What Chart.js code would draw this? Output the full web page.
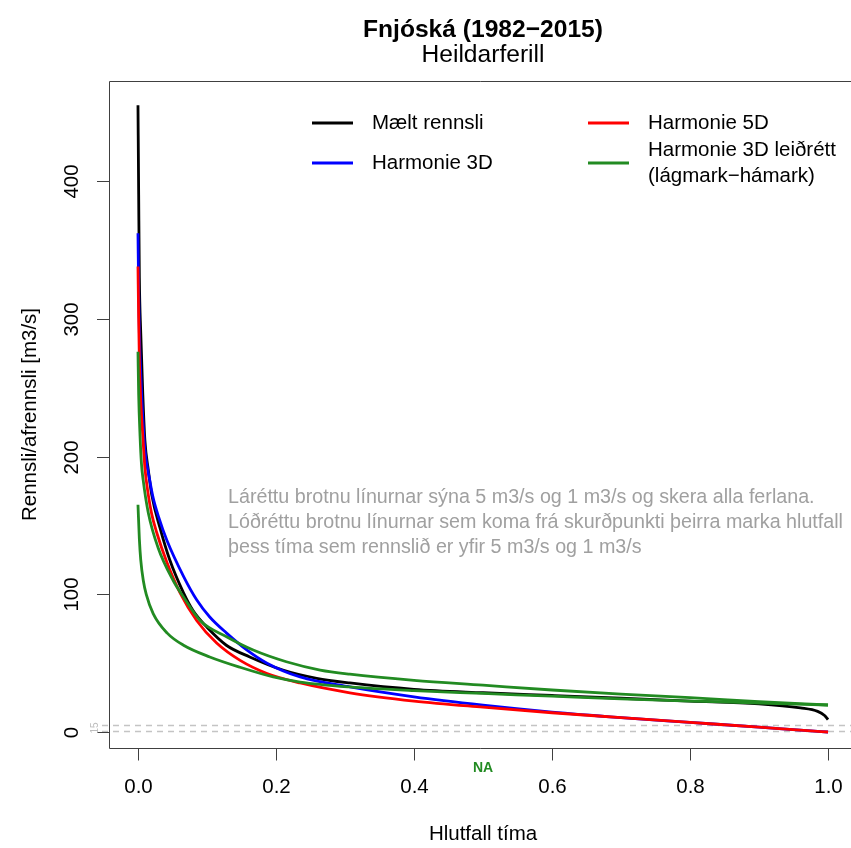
<!DOCTYPE html>
<html lang="is">
<head>
  <meta charset="UTF-8" />
  <title>Fnjóská – Heildarferill</title>
  <script src="https://cdn.jsdelivr.net/npm/chart.js"></script>
  <style>
    html, body {
      margin: 0;
      padding: 0;
      background: #fff;
      overflow: hidden;
    }
    #chart {
      display: block;
    }
  </style>
</head>
<body>
  <canvas id="chart" width="851" height="848"></canvas>

  <script>
    // texts
    const titleText = 'Fnjóská (1982\u22122015)';
    const subtitleText = 'Heildarferill';
    const xTitle = 'Hlutfall tíma';
    const yTitle = 'Rennsli/afrennsli [m3/s]';
    const noteLines = [
      'Láréttu brotnu línurnar sýna 5 m3/s og 1 m3/s og skera alla ferlana.',
      'Lóðréttu brotnu línurnar sem koma frá skurðpunkti þeirra marka hlutfall',
      'þess tíma sem rennslið er yfir 5 m3/s og 1 m3/s'
    ];

    // ticks and reference levels
    const xTicks = [0, 0.2, 0.4, 0.6, 0.8, 1.0];
    const yTicks = [0, 100, 200, 300, 400];
    const refLevels = [5, 1];

    // Mælt rennsli (black)
    const maeltX = [0, 0.001, 0.002, 0.004, 0.007, 0.01, 0.015, 0.02, 0.032, 0.046, 0.066, 0.08, 0.1, 0.128, 0.162, 0.21, 0.259, 0.307, 0.4, 0.5, 0.6, 0.7, 0.8, 0.9, 0.96, 0.985, 0.995, 1.0];
    const maeltY = [455, 390, 330, 290, 245, 212, 190, 172, 148, 125, 101, 88, 76, 63, 54.5, 45, 39, 35.6, 31, 28.5, 26.5, 24.5, 22.5, 20.5, 17.5, 15, 12, 9];

    // Harmonie 3D (blue)
    const h3dX = [0, 0.001, 0.002, 0.004, 0.007, 0.01, 0.017, 0.022, 0.03, 0.042, 0.066, 0.085, 0.104, 0.128, 0.158, 0.187, 0.235, 0.307, 0.4, 0.5, 0.6, 0.7, 0.8, 0.9, 0.97, 1.0];
    const h3dY = [362, 320, 290, 260, 228, 205, 183, 170, 156, 139, 113, 96, 83.5, 72, 59.5, 50, 40, 32.7, 25.5, 19.5, 14.5, 10.5, 7, 3.5, 1, 0];

    // Harmonie 5D (red)
    const h5dX = [0, 0.001, 0.002, 0.004, 0.007, 0.01, 0.015, 0.02, 0.027, 0.042, 0.061, 0.085, 0.114, 0.148, 0.187, 0.235, 0.307, 0.4, 0.5, 0.6, 0.7, 0.8, 0.9, 0.97, 1.0];
    const h5dY = [338, 300, 270, 240, 215, 192, 172, 158, 145, 123, 101, 81, 64.6, 52, 42.5, 35.6, 28.5, 22.5, 18, 14, 10.5, 7, 3.5, 1, 0];

    // Harmonie 3D leiðrétt, hámark (green, upper)
    const leidHaX = [0, 0.001, 0.003, 0.005, 0.0075, 0.015, 0.029, 0.051, 0.066, 0.09, 0.129, 0.167, 0.215, 0.264, 0.307, 0.4, 0.5, 0.6, 0.7, 0.8, 0.9, 1.0];
    const leidHaY = [276, 245, 215, 195, 183, 159, 134, 110, 98, 81, 69, 59.5, 51, 45, 42, 37.5, 34, 30.5, 27.5, 25, 22, 19.6];

    // Harmonie 3D leiðrétt, lágmark (green, lower)
    const leidLaX = [0, 0.002, 0.004, 0.0077, 0.012, 0.022, 0.042, 0.066, 0.104, 0.148, 0.196, 0.235, 0.307, 0.4, 0.5, 0.6, 0.7, 0.8, 0.9, 1.0];
    const leidLaY = [165, 140, 125, 110, 100, 86, 72, 63, 54.5, 47, 40, 36.3, 32.7, 30, 28, 26, 24, 22.5, 21, 19.6];

    const legendLabels = ['Mælt rennsli', 'Harmonie 3D', 'Harmonie 5D', ['Harmonie 3D leiðrétt', '(lágmark\u2212hámark)']];
    const legendColors = ['#000000', '#0000ff', '#ff0000', '#228b22'];

    const FONT = '"Liberation Sans", Arial, sans-serif';

    function pts(xs, ys) {
      return xs.map((x, i) => ({ x: x, y: ys[i] }));
    }

    function line(label, xs, ys, color, order) {
      return {
        label: label,
        data: pts(xs, ys),
        borderColor: color,
        borderWidth: 2.8,
        pointRadius: 0,
        fill: false,
        tension: 0.4,
        cubicInterpolationMode: 'monotone',
        order: order
      };
    }

    // R-style frame, ticks, labels, legend and notes
    const rStyle = {
      id: 'rStyle',
      beforeDatasetsDraw(chart) {
        const ctx = chart.ctx;
        const ys = chart.scales.y;
        ctx.save();
        ctx.strokeStyle = '#c4c4c4';
        ctx.lineWidth = 1.5;
        ctx.setLineDash([6, 5]);
        refLevels.forEach(v => {
          const py = Math.round(ys.getPixelForValue(v)) + 0.5;
          ctx.beginPath();
          ctx.moveTo(102, py);
          ctx.lineTo(851, py);
          ctx.stroke();
        });
        ctx.restore();
      },
      afterDraw(chart) {
        const ctx = chart.ctx;
        const a = chart.chartArea;
        const xs = chart.scales.x;
        const ys = chart.scales.y;
        const cx = xs.getPixelForValue(0.5);

        ctx.save();
        // frame
        ctx.strokeStyle = '#404040';
        ctx.lineWidth = 1;
        ctx.beginPath();
        ctx.moveTo(a.right + 10, a.top + 0.5);
        ctx.lineTo(a.left + 0.5, a.top + 0.5);
        ctx.lineTo(a.left + 0.5, a.bottom + 0.5);
        ctx.lineTo(a.right + 10, a.bottom + 0.5);
        ctx.stroke();

        // x ticks
        ctx.fillStyle = '#000';
        ctx.font = '20.5px ' + FONT;
        ctx.textAlign = 'center';
        ctx.textBaseline = 'alphabetic';
        xTicks.forEach(v => {
          const px = Math.round(xs.getPixelForValue(v)) + 0.5;
          ctx.beginPath();
          ctx.moveTo(px, a.bottom);
          ctx.lineTo(px, a.bottom + 12.5);
          ctx.stroke();
          ctx.fillText(v.toFixed(1), px, 793);
        });

        // y ticks (rotated labels)
        yTicks.forEach(v => {
          const py = Math.round(ys.getPixelForValue(v)) + 0.5;
          ctx.beginPath();
          ctx.moveTo(a.left, py);
          ctx.lineTo(a.left - 12, py);
          ctx.stroke();
          ctx.save();
          ctx.translate(78, py);
          ctx.rotate(-Math.PI / 2);
          ctx.fillText(String(v), 0, 0);
          ctx.restore();
        });

        // axis titles
        ctx.fillText(xTitle, cx, 840);
        ctx.save();
        ctx.translate(30, (a.top + a.bottom) / 2);
        ctx.rotate(-Math.PI / 2);
        ctx.textBaseline = 'middle';
        ctx.fillText(yTitle, 0, 0);
        ctx.restore();

        // title
        ctx.font = 'bold 24.6px ' + FONT;
        ctx.fillText(titleText, cx, 37);
        ctx.font = '24.6px ' + FONT;
        ctx.fillText(subtitleText, cx, 62);

        // legend
        ctx.font = '20.5px ' + FONT;
        ctx.textAlign = 'left';
        ctx.textBaseline = 'middle';
        const legPos = [
          { x: 312, y: 123 },
          { x: 312, y: 163 },
          { x: 588, y: 123 },
          { x: 588, y: 163 }
        ];
        legendLabels.forEach((lab, i) => {
          const p = legPos[i];
          ctx.strokeStyle = legendColors[i];
          ctx.lineWidth = 2.8;
          ctx.beginPath();
          ctx.moveTo(p.x, p.y);
          ctx.lineTo(p.x + 41, p.y);
          ctx.stroke();
          if (Array.isArray(lab)) {
            ctx.fillText(lab[0], p.x + 60, p.y - 13);
            ctx.fillText(lab[1], p.x + 60, p.y + 13);
          } else {
            ctx.fillText(lab, p.x + 60, p.y);
          }
        });

        // note
        ctx.fillStyle = '#a0a0a0';
        ctx.font = '19.7px ' + FONT;
        noteLines.forEach((t, i) => {
          ctx.fillText(t, 228, 498 + i * 25);
        });

        // small labels of reference levels
        ctx.fillStyle = '#bdbdbd';
        ctx.font = '10px ' + FONT;
        ctx.save();
        ctx.translate(95, (ys.getPixelForValue(refLevels[0]) + ys.getPixelForValue(refLevels[1])) / 2);
        ctx.rotate(-Math.PI / 2);
        ctx.textAlign = 'center';
        ctx.fillText(refLevels.slice().reverse().join(''), 0, 0);
        ctx.restore();

        // NA marker
        ctx.fillStyle = '#228b22';
        ctx.font = 'bold 14px ' + FONT;
        ctx.textAlign = 'center';
        ctx.fillText('NA', cx, 768);
        ctx.restore();
      }
    };

    new Chart(document.getElementById('chart').getContext('2d'), {
      type: 'line',
      data: {
        datasets: [
          line('Mælt rennsli', maeltX, maeltY, legendColors[0], 5),
          line('Harmonie 3D', h3dX, h3dY, legendColors[1], 4),
          line('Harmonie 5D', h5dX, h5dY, legendColors[2], 3),
          line('Harmonie 3D leiðrétt (hámark)', leidHaX, leidHaY, legendColors[3], 2),
          line('Harmonie 3D leiðrétt (lágmark)', leidLaX, leidLaY, legendColors[3], 1)
        ]
      },
      options: {
        responsive: false,
        animation: false,
        layout: { padding: { left: 109, top: 81, right: 0, bottom: 100 } },
        plugins: {
          legend: { display: false },
          title: { display: false },
          tooltip: { enabled: false }
        },
        scales: {
          x: { type: 'linear', min: -0.042, max: 1.0333, display: false },
          y: { type: 'linear', min: -11.6, max: 472.6, display: false }
        }
      },
      plugins: [rStyle]
    });
  </script>
</body>
</html>
